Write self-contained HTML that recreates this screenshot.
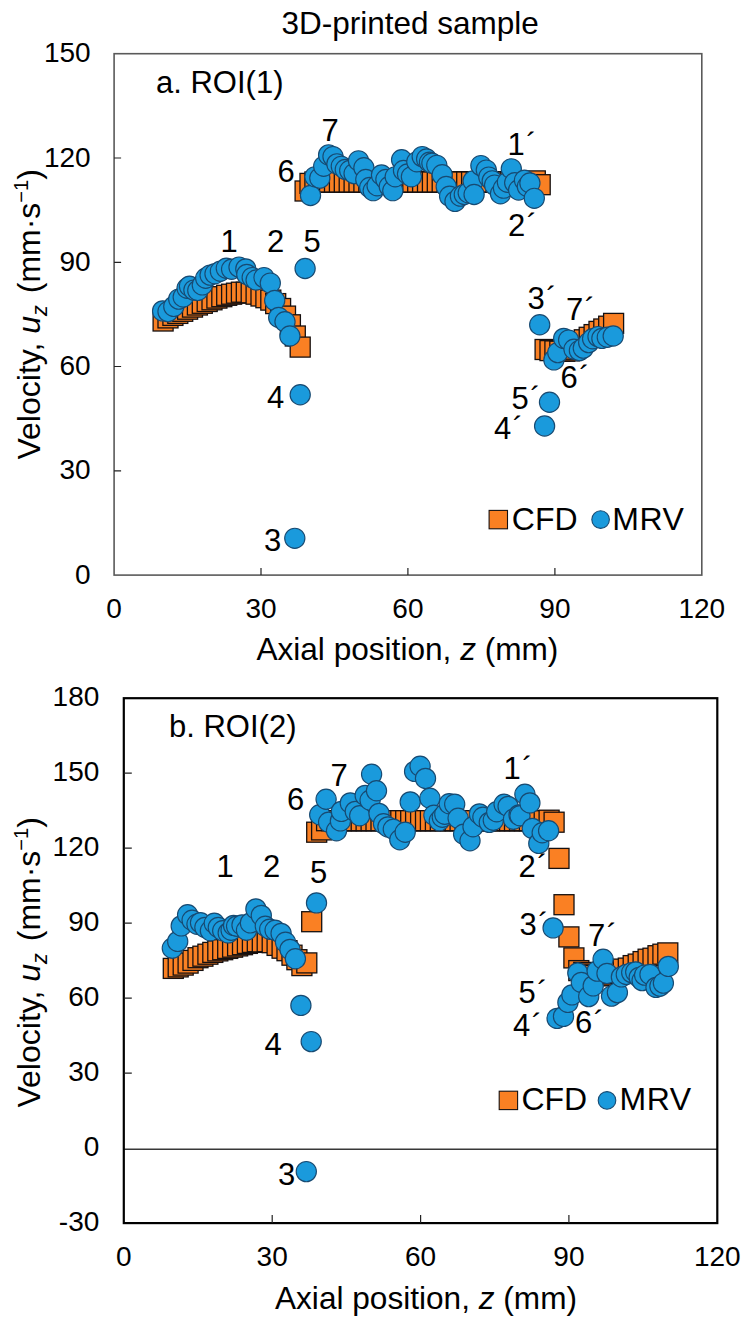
<!DOCTYPE html>
<html><head><meta charset="utf-8"><title>3D-printed sample</title>
<style>html,body{margin:0;padding:0;background:#fff;}body{width:750px;height:1329px;overflow:hidden;font-family:"Liberation Sans",sans-serif;}svg{display:block;}</style>
</head><body><svg width="750" height="1329" viewBox="0 0 750 1329" font-family="Liberation Sans, sans-serif" xml:space="preserve"><rect x="114.1" y="53.7" width="587.7" height="521.4" fill="none" stroke="#5a5a5a" stroke-width="1.6"/><path d="M261.0 575.1v-7 M407.9 575.1v-7 M554.9 575.1v-7 M114.1 470.8h7 M114.1 366.5h7 M114.1 262.3h7 M114.1 158.0h7" stroke="#222" stroke-width="1.2" fill="none"/><g fill="#FA8023" stroke="#161010" stroke-width="1.3"><rect x="153.1" y="311.0" width="20.0" height="20.0"/><rect x="158.0" y="307.9" width="20.0" height="20.0"/><rect x="162.9" y="305.4" width="20.0" height="20.0"/><rect x="167.8" y="303.4" width="20.0" height="20.0"/><rect x="172.7" y="301.3" width="20.0" height="20.0"/><rect x="177.6" y="299.2" width="20.0" height="20.0"/><rect x="182.5" y="297.1" width="20.0" height="20.0"/><rect x="187.4" y="295.0" width="20.0" height="20.0"/><rect x="192.3" y="293.3" width="20.0" height="20.0"/><rect x="197.2" y="291.5" width="20.0" height="20.0"/><rect x="202.0" y="289.8" width="20.0" height="20.0"/><rect x="206.9" y="288.1" width="20.0" height="20.0"/><rect x="211.8" y="286.7" width="20.0" height="20.0"/><rect x="216.7" y="285.3" width="20.0" height="20.0"/><rect x="221.6" y="284.2" width="20.0" height="20.0"/><rect x="226.5" y="283.2" width="20.0" height="20.0"/><rect x="231.4" y="282.2" width="20.0" height="20.0"/><rect x="236.3" y="282.2" width="20.0" height="20.0"/><rect x="241.2" y="282.8" width="20.0" height="20.0"/><rect x="246.1" y="284.2" width="20.0" height="20.0"/><rect x="251.0" y="286.0" width="20.0" height="20.0"/><rect x="255.9" y="287.7" width="20.0" height="20.0"/><rect x="260.8" y="290.1" width="20.0" height="20.0"/><rect x="265.7" y="293.6" width="20.0" height="20.0"/><rect x="270.6" y="298.5" width="20.0" height="20.0"/><rect x="275.5" y="306.1" width="20.0" height="20.0"/><rect x="280.4" y="314.8" width="20.0" height="20.0"/><rect x="285.3" y="326.0" width="20.0" height="20.0"/><rect x="290.2" y="337.1" width="20.0" height="20.0"/><rect x="295.1" y="181.0" width="20.0" height="20.0"/><rect x="300.0" y="173.4" width="20.0" height="20.0"/><rect x="304.9" y="172.0" width="20.0" height="20.0"/><rect x="309.8" y="172.0" width="20.0" height="20.0"/><rect x="314.7" y="172.0" width="20.0" height="20.0"/><rect x="319.6" y="172.0" width="20.0" height="20.0"/><rect x="324.5" y="172.0" width="20.0" height="20.0"/><rect x="329.4" y="172.0" width="20.0" height="20.0"/><rect x="334.3" y="172.0" width="20.0" height="20.0"/><rect x="339.2" y="172.0" width="20.0" height="20.0"/><rect x="344.1" y="172.0" width="20.0" height="20.0"/><rect x="349.0" y="172.0" width="20.0" height="20.0"/><rect x="353.9" y="172.0" width="20.0" height="20.0"/><rect x="358.8" y="172.0" width="20.0" height="20.0"/><rect x="363.7" y="172.0" width="20.0" height="20.0"/><rect x="368.6" y="172.0" width="20.0" height="20.0"/><rect x="373.5" y="172.0" width="20.0" height="20.0"/><rect x="378.4" y="172.0" width="20.0" height="20.0"/><rect x="383.3" y="172.0" width="20.0" height="20.0"/><rect x="388.2" y="172.0" width="20.0" height="20.0"/><rect x="393.1" y="172.0" width="20.0" height="20.0"/><rect x="397.9" y="172.0" width="20.0" height="20.0"/><rect x="402.8" y="172.0" width="20.0" height="20.0"/><rect x="407.7" y="172.0" width="20.0" height="20.0"/><rect x="412.6" y="172.0" width="20.0" height="20.0"/><rect x="417.5" y="172.0" width="20.0" height="20.0"/><rect x="422.4" y="172.0" width="20.0" height="20.0"/><rect x="427.3" y="172.0" width="20.0" height="20.0"/><rect x="432.2" y="172.0" width="20.0" height="20.0"/><rect x="437.1" y="172.0" width="20.0" height="20.0"/><rect x="442.0" y="172.0" width="20.0" height="20.0"/><rect x="446.9" y="172.0" width="20.0" height="20.0"/><rect x="451.8" y="172.0" width="20.0" height="20.0"/><rect x="456.7" y="172.0" width="20.0" height="20.0"/><rect x="461.6" y="172.0" width="20.0" height="20.0"/><rect x="466.5" y="172.0" width="20.0" height="20.0"/><rect x="471.4" y="172.0" width="20.0" height="20.0"/><rect x="476.3" y="172.0" width="20.0" height="20.0"/><rect x="481.2" y="172.0" width="20.0" height="20.0"/><rect x="486.1" y="172.0" width="20.0" height="20.0"/><rect x="491.0" y="172.0" width="20.0" height="20.0"/><rect x="495.9" y="172.0" width="20.0" height="20.0"/><rect x="500.8" y="172.0" width="20.0" height="20.0"/><rect x="505.7" y="172.0" width="20.0" height="20.0"/><rect x="510.6" y="172.0" width="20.0" height="20.0"/><rect x="515.5" y="172.0" width="20.0" height="20.0"/><rect x="520.4" y="172.0" width="20.0" height="20.0"/><rect x="525.3" y="170.9" width="20.0" height="20.0"/><rect x="530.2" y="174.7" width="20.0" height="20.0"/><rect x="535.1" y="339.5" width="20.0" height="20.0"/><rect x="540.0" y="340.6" width="20.0" height="20.0"/><rect x="544.9" y="340.9" width="20.0" height="20.0"/><rect x="549.8" y="341.2" width="20.0" height="20.0"/><rect x="554.7" y="341.2" width="20.0" height="20.0"/><rect x="559.6" y="340.9" width="20.0" height="20.0"/><rect x="564.5" y="339.2" width="20.0" height="20.0"/><rect x="569.4" y="335.0" width="20.0" height="20.0"/><rect x="574.3" y="329.8" width="20.0" height="20.0"/><rect x="579.2" y="327.3" width="20.0" height="20.0"/><rect x="584.1" y="324.6" width="20.0" height="20.0"/><rect x="589.0" y="321.4" width="20.0" height="20.0"/><rect x="593.8" y="319.0" width="20.0" height="20.0"/><rect x="598.7" y="316.2" width="20.0" height="20.0"/><rect x="603.6" y="313.4" width="20.0" height="20.0"/></g><g fill="#1A9ADC" stroke="#174a72" stroke-width="1.15"><circle cx="162.6" cy="310.9" r="10.1"/><circle cx="168.0" cy="311.6" r="10.1"/><circle cx="173.8" cy="306.4" r="10.1"/><circle cx="178.7" cy="299.1" r="10.1"/><circle cx="183.2" cy="297.0" r="10.1"/><circle cx="187.1" cy="288.3" r="10.1"/><circle cx="189.5" cy="286.2" r="10.1"/><circle cx="193.9" cy="290.1" r="10.1"/><circle cx="197.8" cy="290.4" r="10.1"/><circle cx="202.3" cy="284.9" r="10.1"/><circle cx="205.7" cy="278.2" r="10.1"/><circle cx="210.1" cy="275.1" r="10.1"/><circle cx="215.0" cy="273.7" r="10.1"/><circle cx="220.4" cy="271.3" r="10.1"/><circle cx="226.3" cy="268.2" r="10.1"/><circle cx="231.6" cy="269.2" r="10.1"/><circle cx="239.0" cy="267.1" r="10.1"/><circle cx="245.8" cy="268.9" r="10.1"/><circle cx="246.8" cy="274.4" r="10.1"/><circle cx="252.2" cy="277.6" r="10.1"/><circle cx="256.1" cy="280.0" r="10.1"/><circle cx="264.0" cy="277.6" r="10.1"/><circle cx="270.3" cy="283.1" r="10.1"/><circle cx="274.7" cy="300.5" r="10.1"/><circle cx="278.7" cy="317.5" r="10.1"/><circle cx="285.0" cy="321.7" r="10.1"/><circle cx="289.9" cy="336.0" r="10.1"/><circle cx="294.8" cy="538.3" r="10.1"/><circle cx="300.2" cy="394.7" r="10.1"/><circle cx="305.1" cy="268.5" r="10.1"/><circle cx="310.5" cy="195.5" r="10.1"/><circle cx="314.9" cy="176.8" r="10.1"/><circle cx="319.8" cy="178.1" r="10.1"/><circle cx="323.7" cy="166.3" r="10.1"/><circle cx="328.6" cy="154.9" r="10.1"/><circle cx="333.0" cy="156.6" r="10.1"/><circle cx="336.9" cy="163.9" r="10.1"/><circle cx="341.3" cy="166.3" r="10.1"/><circle cx="345.3" cy="169.5" r="10.1"/><circle cx="349.7" cy="170.5" r="10.1"/><circle cx="354.1" cy="173.6" r="10.1"/><circle cx="358.5" cy="160.8" r="10.1"/><circle cx="363.9" cy="167.7" r="10.1"/><circle cx="365.8" cy="179.5" r="10.1"/><circle cx="369.7" cy="187.5" r="10.1"/><circle cx="373.2" cy="190.7" r="10.1"/><circle cx="377.1" cy="185.8" r="10.1"/><circle cx="381.5" cy="175.0" r="10.1"/><circle cx="385.9" cy="179.5" r="10.1"/><circle cx="389.3" cy="186.5" r="10.1"/><circle cx="392.8" cy="190.7" r="10.1"/><circle cx="395.2" cy="176.8" r="10.1"/><circle cx="401.6" cy="159.7" r="10.1"/><circle cx="403.5" cy="170.5" r="10.1"/><circle cx="407.5" cy="174.0" r="10.1"/><circle cx="411.4" cy="176.8" r="10.1"/><circle cx="416.8" cy="161.8" r="10.1"/><circle cx="422.2" cy="156.6" r="10.1"/><circle cx="426.6" cy="159.0" r="10.1"/><circle cx="429.5" cy="162.2" r="10.1"/><circle cx="431.9" cy="163.2" r="10.1"/><circle cx="436.8" cy="165.3" r="10.1"/><circle cx="442.2" cy="174.7" r="10.1"/><circle cx="446.2" cy="186.5" r="10.1"/><circle cx="449.6" cy="196.2" r="10.1"/><circle cx="455.0" cy="201.4" r="10.1"/><circle cx="460.4" cy="196.2" r="10.1"/><circle cx="464.3" cy="194.5" r="10.1"/><circle cx="468.2" cy="192.7" r="10.1"/><circle cx="473.1" cy="180.9" r="10.1"/><circle cx="474.1" cy="194.5" r="10.1"/><circle cx="480.9" cy="165.6" r="10.1"/><circle cx="486.3" cy="170.1" r="10.1"/><circle cx="488.8" cy="177.1" r="10.1"/><circle cx="492.2" cy="180.9" r="10.1"/><circle cx="494.6" cy="185.1" r="10.1"/><circle cx="500.5" cy="193.8" r="10.1"/><circle cx="503.5" cy="188.2" r="10.1"/><circle cx="507.4" cy="182.3" r="10.1"/><circle cx="511.3" cy="168.8" r="10.1"/><circle cx="514.7" cy="182.7" r="10.1"/><circle cx="518.6" cy="190.0" r="10.1"/><circle cx="524.5" cy="180.2" r="10.1"/><circle cx="527.4" cy="186.5" r="10.1"/><circle cx="529.9" cy="183.0" r="10.1"/><circle cx="534.3" cy="198.3" r="10.1"/><circle cx="539.7" cy="324.8" r="10.1"/><circle cx="544.6" cy="426.0" r="10.1"/><circle cx="549.5" cy="402.3" r="10.1"/><circle cx="553.9" cy="359.9" r="10.1"/><circle cx="557.8" cy="352.6" r="10.1"/><circle cx="563.7" cy="338.4" r="10.1"/><circle cx="568.6" cy="340.1" r="10.1"/><circle cx="574.0" cy="349.2" r="10.1"/><circle cx="579.4" cy="350.6" r="10.1"/><circle cx="583.3" cy="348.1" r="10.1"/><circle cx="588.7" cy="342.6" r="10.1"/><circle cx="592.6" cy="338.7" r="10.1"/><circle cx="598.0" cy="336.6" r="10.1"/><circle cx="601.9" cy="338.4" r="10.1"/><circle cx="607.3" cy="337.3" r="10.1"/><circle cx="613.2" cy="336.0" r="10.1"/></g><line x1="123.8" x2="717.3" y1="1149.2" y2="1149.2" stroke="#383838" stroke-width="1.4"/><rect x="123.8" y="698.2" width="593.5" height="524.9" fill="none" stroke="#000" stroke-width="2.2"/><path d="M272.2 1223.1v-8 M420.6 1223.1v-8 M568.9 1223.1v-8 M123.8 1073.1h8 M123.8 998.1h8 M123.8 923.2h8 M123.8 848.2h8 M123.8 773.2h8" stroke="#222" stroke-width="1.2" fill="none"/><g fill="#FA8023" stroke="#161010" stroke-width="1.3"><rect x="163.3" y="958.4" width="20.0" height="20.0"/><rect x="168.2" y="956.9" width="20.0" height="20.0"/><rect x="173.2" y="955.1" width="20.0" height="20.0"/><rect x="178.1" y="953.1" width="20.0" height="20.0"/><rect x="183.0" y="950.4" width="20.0" height="20.0"/><rect x="188.0" y="947.7" width="20.0" height="20.0"/><rect x="192.9" y="946.2" width="20.0" height="20.0"/><rect x="197.9" y="944.2" width="20.0" height="20.0"/><rect x="202.8" y="942.4" width="20.0" height="20.0"/><rect x="207.8" y="940.9" width="20.0" height="20.0"/><rect x="212.7" y="939.7" width="20.0" height="20.0"/><rect x="217.7" y="938.4" width="20.0" height="20.0"/><rect x="222.6" y="937.2" width="20.0" height="20.0"/><rect x="227.6" y="935.9" width="20.0" height="20.0"/><rect x="232.5" y="934.7" width="20.0" height="20.0"/><rect x="237.4" y="933.4" width="20.0" height="20.0"/><rect x="242.4" y="932.4" width="20.0" height="20.0"/><rect x="247.3" y="931.7" width="20.0" height="20.0"/><rect x="252.3" y="931.9" width="20.0" height="20.0"/><rect x="257.2" y="931.7" width="20.0" height="20.0"/><rect x="262.2" y="932.7" width="20.0" height="20.0"/><rect x="267.1" y="935.4" width="20.0" height="20.0"/><rect x="272.1" y="938.2" width="20.0" height="20.0"/><rect x="277.0" y="940.7" width="20.0" height="20.0"/><rect x="282.0" y="945.2" width="20.0" height="20.0"/><rect x="286.9" y="949.7" width="20.0" height="20.0"/><rect x="291.9" y="955.6" width="20.0" height="20.0"/><rect x="296.8" y="952.9" width="20.0" height="20.0"/><rect x="301.7" y="911.7" width="20.0" height="20.0"/><rect x="306.7" y="822.2" width="20.0" height="20.0"/><rect x="311.6" y="819.9" width="20.0" height="20.0"/><rect x="316.6" y="810.7" width="20.0" height="20.0"/><rect x="321.5" y="810.7" width="20.0" height="20.0"/><rect x="326.5" y="810.7" width="20.0" height="20.0"/><rect x="331.4" y="810.7" width="20.0" height="20.0"/><rect x="336.4" y="810.7" width="20.0" height="20.0"/><rect x="341.3" y="810.7" width="20.0" height="20.0"/><rect x="346.3" y="810.7" width="20.0" height="20.0"/><rect x="351.2" y="810.7" width="20.0" height="20.0"/><rect x="356.1" y="810.7" width="20.0" height="20.0"/><rect x="361.1" y="810.7" width="20.0" height="20.0"/><rect x="366.0" y="810.7" width="20.0" height="20.0"/><rect x="371.0" y="810.7" width="20.0" height="20.0"/><rect x="375.9" y="810.7" width="20.0" height="20.0"/><rect x="380.9" y="810.7" width="20.0" height="20.0"/><rect x="385.8" y="810.7" width="20.0" height="20.0"/><rect x="390.8" y="810.7" width="20.0" height="20.0"/><rect x="395.7" y="810.7" width="20.0" height="20.0"/><rect x="400.7" y="810.7" width="20.0" height="20.0"/><rect x="405.6" y="810.7" width="20.0" height="20.0"/><rect x="410.6" y="810.7" width="20.0" height="20.0"/><rect x="415.5" y="810.7" width="20.0" height="20.0"/><rect x="420.4" y="810.7" width="20.0" height="20.0"/><rect x="425.4" y="810.7" width="20.0" height="20.0"/><rect x="430.3" y="810.7" width="20.0" height="20.0"/><rect x="435.3" y="810.7" width="20.0" height="20.0"/><rect x="440.2" y="810.7" width="20.0" height="20.0"/><rect x="445.2" y="810.7" width="20.0" height="20.0"/><rect x="450.1" y="810.7" width="20.0" height="20.0"/><rect x="455.1" y="810.7" width="20.0" height="20.0"/><rect x="460.0" y="810.7" width="20.0" height="20.0"/><rect x="465.0" y="810.7" width="20.0" height="20.0"/><rect x="469.9" y="810.7" width="20.0" height="20.0"/><rect x="474.8" y="810.7" width="20.0" height="20.0"/><rect x="479.8" y="810.7" width="20.0" height="20.0"/><rect x="484.7" y="810.7" width="20.0" height="20.0"/><rect x="489.7" y="810.7" width="20.0" height="20.0"/><rect x="494.6" y="810.7" width="20.0" height="20.0"/><rect x="499.6" y="810.7" width="20.0" height="20.0"/><rect x="504.5" y="810.7" width="20.0" height="20.0"/><rect x="509.5" y="810.7" width="20.0" height="20.0"/><rect x="514.4" y="810.7" width="20.0" height="20.0"/><rect x="519.4" y="810.7" width="20.0" height="20.0"/><rect x="524.3" y="810.7" width="20.0" height="20.0"/><rect x="529.2" y="810.7" width="20.0" height="20.0"/><rect x="534.2" y="810.7" width="20.0" height="20.0"/><rect x="539.1" y="810.2" width="20.0" height="20.0"/><rect x="544.1" y="812.2" width="20.0" height="20.0"/><rect x="549.0" y="848.4" width="20.0" height="20.0"/><rect x="554.0" y="894.7" width="20.0" height="20.0"/><rect x="558.9" y="926.9" width="20.0" height="20.0"/><rect x="563.9" y="947.9" width="20.0" height="20.0"/><rect x="568.8" y="960.6" width="20.0" height="20.0"/><rect x="573.8" y="962.4" width="20.0" height="20.0"/><rect x="578.7" y="964.1" width="20.0" height="20.0"/><rect x="583.7" y="965.4" width="20.0" height="20.0"/><rect x="588.6" y="965.9" width="20.0" height="20.0"/><rect x="593.5" y="965.1" width="20.0" height="20.0"/><rect x="598.5" y="963.6" width="20.0" height="20.0"/><rect x="603.4" y="961.9" width="20.0" height="20.0"/><rect x="608.4" y="960.4" width="20.0" height="20.0"/><rect x="613.3" y="959.1" width="20.0" height="20.0"/><rect x="618.3" y="958.1" width="20.0" height="20.0"/><rect x="623.2" y="955.6" width="20.0" height="20.0"/><rect x="628.2" y="954.1" width="20.0" height="20.0"/><rect x="633.1" y="951.6" width="20.0" height="20.0"/><rect x="638.1" y="949.2" width="20.0" height="20.0"/><rect x="643.0" y="948.2" width="20.0" height="20.0"/><rect x="648.0" y="945.7" width="20.0" height="20.0"/><rect x="652.9" y="944.2" width="20.0" height="20.0"/><rect x="657.8" y="942.9" width="20.0" height="20.0"/></g><g fill="#1A9ADC" stroke="#174a72" stroke-width="1.15"><circle cx="172.3" cy="948.2" r="10.1"/><circle cx="177.7" cy="941.4" r="10.1"/><circle cx="181.2" cy="925.9" r="10.1"/><circle cx="187.6" cy="914.7" r="10.1"/><circle cx="192.1" cy="920.2" r="10.1"/><circle cx="197.0" cy="924.2" r="10.1"/><circle cx="200.5" cy="922.7" r="10.1"/><circle cx="204.9" cy="927.4" r="10.1"/><circle cx="210.4" cy="930.7" r="10.1"/><circle cx="214.3" cy="923.2" r="10.1"/><circle cx="218.3" cy="927.4" r="10.1"/><circle cx="222.7" cy="930.7" r="10.1"/><circle cx="228.2" cy="932.9" r="10.1"/><circle cx="231.1" cy="930.2" r="10.1"/><circle cx="233.6" cy="925.4" r="10.1"/><circle cx="236.6" cy="926.2" r="10.1"/><circle cx="242.0" cy="924.9" r="10.1"/><circle cx="246.5" cy="930.2" r="10.1"/><circle cx="250.4" cy="922.9" r="10.1"/><circle cx="255.9" cy="908.9" r="10.1"/><circle cx="261.3" cy="915.4" r="10.1"/><circle cx="265.3" cy="926.2" r="10.1"/><circle cx="269.7" cy="929.2" r="10.1"/><circle cx="275.1" cy="930.2" r="10.1"/><circle cx="281.1" cy="933.4" r="10.1"/><circle cx="285.5" cy="942.2" r="10.1"/><circle cx="290.0" cy="949.4" r="10.1"/><circle cx="295.4" cy="958.7" r="10.1"/><circle cx="300.9" cy="1005.4" r="10.1"/><circle cx="306.3" cy="1171.6" r="10.1"/><circle cx="311.2" cy="1041.6" r="10.1"/><circle cx="316.5" cy="902.9" r="10.1"/><circle cx="319.7" cy="814.7" r="10.1"/><circle cx="326.1" cy="799.2" r="10.1"/><circle cx="328.6" cy="822.2" r="10.1"/><circle cx="336.5" cy="830.7" r="10.1"/><circle cx="340.4" cy="820.9" r="10.1"/><circle cx="341.4" cy="811.4" r="10.1"/><circle cx="350.3" cy="802.9" r="10.1"/><circle cx="355.3" cy="811.4" r="10.1"/><circle cx="359.7" cy="815.7" r="10.1"/><circle cx="365.2" cy="795.4" r="10.1"/><circle cx="370.1" cy="800.2" r="10.1"/><circle cx="371.6" cy="774.2" r="10.1"/><circle cx="376.5" cy="790.7" r="10.1"/><circle cx="379.0" cy="813.4" r="10.1"/><circle cx="383.5" cy="823.7" r="10.1"/><circle cx="387.9" cy="826.9" r="10.1"/><circle cx="393.3" cy="829.2" r="10.1"/><circle cx="399.8" cy="839.7" r="10.1"/><circle cx="405.2" cy="832.2" r="10.1"/><circle cx="410.2" cy="801.9" r="10.1"/><circle cx="414.6" cy="771.4" r="10.1"/><circle cx="420.1" cy="766.2" r="10.1"/><circle cx="425.5" cy="778.4" r="10.1"/><circle cx="429.9" cy="798.2" r="10.1"/><circle cx="433.9" cy="815.2" r="10.1"/><circle cx="439.3" cy="820.7" r="10.1"/><circle cx="442.3" cy="817.2" r="10.1"/><circle cx="444.8" cy="814.2" r="10.1"/><circle cx="449.2" cy="803.7" r="10.1"/><circle cx="454.7" cy="804.2" r="10.1"/><circle cx="458.1" cy="818.2" r="10.1"/><circle cx="463.6" cy="834.2" r="10.1"/><circle cx="470.0" cy="840.7" r="10.1"/><circle cx="473.0" cy="826.7" r="10.1"/><circle cx="479.4" cy="813.9" r="10.1"/><circle cx="482.9" cy="817.2" r="10.1"/><circle cx="489.3" cy="822.4" r="10.1"/><circle cx="493.3" cy="820.2" r="10.1"/><circle cx="496.7" cy="811.7" r="10.1"/><circle cx="504.1" cy="804.2" r="10.1"/><circle cx="508.1" cy="806.4" r="10.1"/><circle cx="513.5" cy="819.2" r="10.1"/><circle cx="519.0" cy="814.9" r="10.1"/><circle cx="520.0" cy="815.7" r="10.1"/><circle cx="524.9" cy="794.2" r="10.1"/><circle cx="529.9" cy="802.9" r="10.1"/><circle cx="532.3" cy="828.4" r="10.1"/><circle cx="538.8" cy="843.4" r="10.1"/><circle cx="542.2" cy="832.7" r="10.1"/><circle cx="548.6" cy="830.7" r="10.1"/><circle cx="553.1" cy="927.9" r="10.1"/><circle cx="557.1" cy="1018.4" r="10.1"/><circle cx="563.5" cy="1016.4" r="10.1"/><circle cx="567.9" cy="1002.4" r="10.1"/><circle cx="571.9" cy="994.9" r="10.1"/><circle cx="577.8" cy="972.9" r="10.1"/><circle cx="581.3" cy="982.4" r="10.1"/><circle cx="588.7" cy="996.6" r="10.1"/><circle cx="593.2" cy="985.9" r="10.1"/><circle cx="597.1" cy="971.1" r="10.1"/><circle cx="603.1" cy="959.2" r="10.1"/><circle cx="607.0" cy="973.4" r="10.1"/><circle cx="611.5" cy="996.1" r="10.1"/><circle cx="617.4" cy="992.6" r="10.1"/><circle cx="621.4" cy="976.9" r="10.1"/><circle cx="626.3" cy="974.4" r="10.1"/><circle cx="631.7" cy="972.6" r="10.1"/><circle cx="635.7" cy="971.9" r="10.1"/><circle cx="639.2" cy="977.4" r="10.1"/><circle cx="642.1" cy="980.6" r="10.1"/><circle cx="644.6" cy="975.1" r="10.1"/><circle cx="650.0" cy="974.4" r="10.1"/><circle cx="656.0" cy="987.4" r="10.1"/><circle cx="659.9" cy="986.1" r="10.1"/><circle cx="663.4" cy="983.1" r="10.1"/><circle cx="668.3" cy="966.4" r="10.1"/></g><g fill="#000"><text x="410.2" y="34.3" font-size="31.5" text-anchor="middle" >3D-printed sample</text><text x="156" y="92.6" font-size="31" text-anchor="start" >a. ROI(1)</text><text x="169" y="737.3" font-size="31" text-anchor="start" >b. ROI(2)</text><text x="90.6" y="583.6" font-size="28" text-anchor="end" >0</text><text x="90.6" y="479.3" font-size="28" text-anchor="end" >30</text><text x="90.6" y="375.0" font-size="28" text-anchor="end" >60</text><text x="90.6" y="270.8" font-size="28" text-anchor="end" >90</text><text x="90.6" y="166.5" font-size="28" text-anchor="end" >120</text><text x="90.6" y="62.2" font-size="28" text-anchor="end" >150</text><text x="114.1" y="618" font-size="28" text-anchor="middle" >0</text><text x="261.0" y="618" font-size="28" text-anchor="middle" >30</text><text x="407.9" y="618" font-size="28" text-anchor="middle" >60</text><text x="554.9" y="618" font-size="28" text-anchor="middle" >90</text><text x="701.8" y="618" font-size="28" text-anchor="middle" >120</text><text x="99.3" y="1231.1" font-size="28" text-anchor="end" >-30</text><text x="99.3" y="1156.1" font-size="28" text-anchor="end" >0</text><text x="99.3" y="1081.1" font-size="28" text-anchor="end" >30</text><text x="99.3" y="1006.1" font-size="28" text-anchor="end" >60</text><text x="99.3" y="931.2" font-size="28" text-anchor="end" >90</text><text x="99.3" y="856.2" font-size="28" text-anchor="end" >120</text><text x="99.3" y="781.2" font-size="28" text-anchor="end" >150</text><text x="99.3" y="706.2" font-size="28" text-anchor="end" >180</text><text x="123.8" y="1266" font-size="28" text-anchor="middle" >0</text><text x="272.2" y="1266" font-size="28" text-anchor="middle" >30</text><text x="420.6" y="1266" font-size="28" text-anchor="middle" >60</text><text x="568.9" y="1266" font-size="28" text-anchor="middle" >90</text><text x="717.3" y="1266" font-size="28" text-anchor="middle" >120</text><text x="407.4" y="659.7" font-size="31.6" text-anchor="middle">Axial position, <tspan font-style="italic">z</tspan> (mm)</text><text x="426" y="1309.3" font-size="31.6" text-anchor="middle">Axial position, <tspan font-style="italic">z</tspan> (mm)</text><text transform="translate(40.2,459.5) rotate(-90)" font-size="32" text-anchor="start">Velocity, <tspan font-style="italic">u</tspan><tspan font-style="italic" font-size="21.5" dy="6.5">z</tspan><tspan dy="-6.5" dx="12">(mm·s</tspan><tspan font-size="20" dy="-12">−1</tspan><tspan dy="12">)</tspan></text><text transform="translate(40.2,1107.5) rotate(-90)" font-size="32" text-anchor="start">Velocity, <tspan font-style="italic">u</tspan><tspan font-style="italic" font-size="21.5" dy="6.5">z</tspan><tspan dy="-6.5" dx="12">(mm·s</tspan><tspan font-size="20" dy="-12">−1</tspan><tspan dy="12">)</tspan></text><text x="220.5" y="252.4" font-size="31" text-anchor="start" >1</text><text x="267" y="252.4" font-size="31" text-anchor="start" >2</text><text x="303.5" y="252.4" font-size="31" text-anchor="start" >5</text><text x="267" y="408" font-size="31" text-anchor="start" >4</text><text x="264" y="551" font-size="31" text-anchor="start" >3</text><text x="277.5" y="182" font-size="31" text-anchor="start" >6</text><text x="321.5" y="141.4" font-size="31" text-anchor="start" >7</text><text x="507.5" y="155.1" font-size="31" text-anchor="start" >1<tspan dx="1.5">´</tspan></text><text x="508" y="236.2" font-size="31" text-anchor="start" >2<tspan dx="1.5">´</tspan></text><text x="527.5" y="309" font-size="31" text-anchor="start" >3<tspan dx="1.5">´</tspan></text><text x="566" y="320.2" font-size="31" text-anchor="start" >7<tspan dx="1.5">´</tspan></text><text x="560.5" y="388.1" font-size="31" text-anchor="start" >6<tspan dx="1.5">´</tspan></text><text x="511.5" y="409.4" font-size="31" text-anchor="start" >5<tspan dx="1.5">´</tspan></text><text x="494" y="439.4" font-size="31" text-anchor="start" >4<tspan dx="1.5">´</tspan></text><text x="216.5" y="876.5" font-size="31" text-anchor="start" >1</text><text x="263" y="876.5" font-size="31" text-anchor="start" >2</text><text x="310" y="883" font-size="31" text-anchor="start" >5</text><text x="264.5" y="1055.2" font-size="31" text-anchor="start" >4</text><text x="278" y="1184.8" font-size="31" text-anchor="start" >3</text><text x="287" y="810.2" font-size="31" text-anchor="start" >6</text><text x="330.5" y="785.7" font-size="31" text-anchor="start" >7</text><text x="503.5" y="778.5" font-size="31" text-anchor="start" >1<tspan dx="1.5">´</tspan></text><text x="518.5" y="876.6" font-size="31" text-anchor="start" >2<tspan dx="1.5">´</tspan></text><text x="519.5" y="934.5" font-size="31" text-anchor="start" >3<tspan dx="1.5">´</tspan></text><text x="588" y="945.8" font-size="31" text-anchor="start" >7<tspan dx="1.5">´</tspan></text><text x="518.5" y="1003.3" font-size="31" text-anchor="start" >5<tspan dx="1.5">´</tspan></text><text x="513" y="1035.5" font-size="31" text-anchor="start" >4<tspan dx="1.5">´</tspan></text><text x="575" y="1033" font-size="31" text-anchor="start" >6<tspan dx="1.5">´</tspan></text><rect x="489.1" y="510.40000000000003" width="18.4" height="18.4" fill="#FA8023" stroke="#161010" stroke-width="1.1"/><text x="511.8" y="529.6" font-size="32" text-anchor="start" >CFD</text><circle cx="600.6" cy="519.6" r="8.8" fill="#1A9ADC" stroke="#174a72" stroke-width="1.1"/><text x="612.2" y="529.6" font-size="32" text-anchor="start" letter-spacing="0.6">MRV</text><rect x="499.2" y="1091.2" width="18.4" height="18.4" fill="#FA8023" stroke="#161010" stroke-width="1.1"/><text x="521.4" y="1110.4" font-size="32" text-anchor="start" >CFD</text><circle cx="607.0" cy="1100.4" r="8.8" fill="#1A9ADC" stroke="#174a72" stroke-width="1.1"/><text x="619.4" y="1110.4" font-size="32" text-anchor="start" letter-spacing="0.6">MRV</text></g></svg></body></html>
